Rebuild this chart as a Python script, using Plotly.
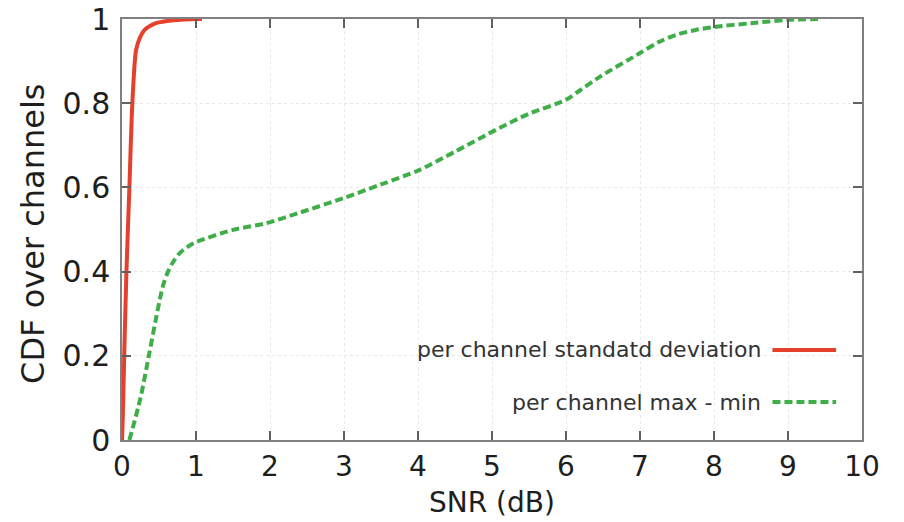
import plotly.graph_objects as go

# Data
std_x = [0.0, 0.01, 0.03, 0.06, 0.10, 0.14, 0.19, 0.24, 0.30, 0.46, 0.70, 1.08]
std_y = [0.0, 0.05, 0.20, 0.40, 0.60, 0.80, 0.926, 0.955, 0.973, 0.99, 0.997, 1.0]

mm_x = [0.10, 0.25, 0.37, 0.45, 0.51, 0.56, 0.61, 0.68, 0.78, 0.88, 1.0, 1.5, 1.95, 2.4,
        3.0, 3.5, 4.0, 4.5, 5.1, 5.5, 6.0, 6.2, 6.45, 7.0, 7.25, 7.5, 7.75, 8.0, 8.5, 9.0, 9.46]
mm_y = [0.0, 0.10, 0.207, 0.28, 0.333, 0.37, 0.395, 0.42, 0.444, 0.458, 0.47, 0.499, 0.515, 0.54,
        0.575, 0.607, 0.64, 0.685, 0.741, 0.775, 0.808, 0.832, 0.862, 0.919, 0.945, 0.963, 0.974,
        0.981, 0.99, 0.998, 1.0]

x_ticks = [0, 1, 2, 3, 4, 5, 6, 7, 8, 9, 10]
y_ticks = [0, 0.2, 0.4, 0.6, 0.8, 1]
y_tick_text = ["0", "0.2", "0.4", "0.6", "0.8", "1"]

x_title = "SNR (dB)"
y_title = "CDF over channels"
series_names = ["per channel standatd deviation", "per channel max - min"]
RED = "#e4402c"
GREEN = "#3fae49"
FONT = "DejaVu Sans"
TXT = "#1e1e1e"

fig = go.Figure()
fig.add_trace(go.Scatter(x=std_x, y=std_y, mode="lines", name=series_names[0],
                         line=dict(color=RED, width=4, shape="spline", smoothing=0.8),
                         showlegend=False))
fig.add_trace(go.Scatter(x=mm_x, y=mm_y, mode="lines", name=series_names[1],
                         line=dict(color=GREEN, width=4, dash="8px,4px", shape="spline", smoothing=0.8),
                         showlegend=False))

axis_common = dict(showline=True, linecolor="#808080", linewidth=1.5, mirror="ticks",
                   ticks="inside", ticklen=9, tickcolor="#606060", tickwidth=1.5,
                   showgrid=True, gridcolor="#e8e8e8", griddash="dot", gridwidth=1,
                   zeroline=False, automargin=False)

fig.update_xaxes(range=[0, 10], tickvals=x_ticks, ticklabelstandoff=1,
                 tickfont=dict(family=FONT, size=28, color=TXT), **axis_common)
fig.update_yaxes(range=[0, 1], tickvals=y_ticks, ticktext=y_tick_text, ticklabelstandoff=4,
                 tickfont=dict(family=FONT, size=30, color=TXT), **axis_common)

# Axis titles as annotations for exact placement
fig.add_annotation(x=0.5, y=-0.1496, xref="paper", yref="paper", text=x_title, showarrow=False,
                   xanchor="center", yanchor="middle",
                   font=dict(family=FONT, size=28, color=TXT))
fig.add_annotation(x=-0.12, y=0.49, xref="paper", yref="paper", text=y_title, showarrow=False,
                   xanchor="center", yanchor="middle", textangle=-90,
                   font=dict(family=FONT, size=32, color=TXT))

# Legend (text on left, sample line on right, as in reference)
legend_rows = [(0.214, RED, None), (0.09, GREEN, "dash")]
for name, (yy, col, dash) in zip(series_names, legend_rows):
    fig.add_annotation(x=0.866, y=yy, xref="paper", yref="paper", text=name, showarrow=False,
                       xanchor="right", yanchor="middle",
                       font=dict(family=FONT, size=22, color="#333333"))
    fig.add_shape(type="line", xref="paper", yref="paper", x0=0.879, x1=0.965, y0=yy, y1=yy,
                  line=dict(color=col, width=4, dash="8px,4px" if dash else "solid"))

fig.update_layout(width=904, height=522, margin=dict(l=122, r=42, t=19, b=82),
                  plot_bgcolor="white", paper_bgcolor="white",
                  font=dict(family=FONT))

fig.write_html("out.html")
